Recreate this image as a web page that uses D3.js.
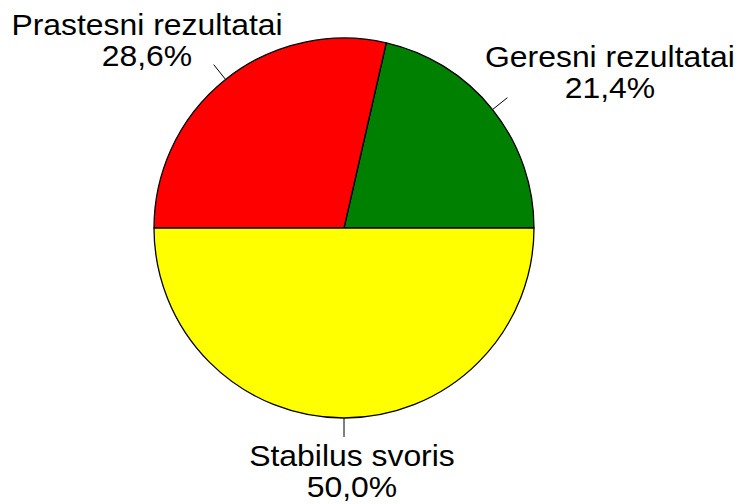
<!DOCTYPE html>
<html>
<head>
<meta charset="utf-8">
<script src="https://cdn.jsdelivr.net/npm/d3@7"></script>
<style>
  body { margin: 0; background: #fff; }
  svg { display: block; }
  text { font-family: "Liberation Sans", Arial, sans-serif; font-size: 29px; fill: #000; }
</style>
</head>
<body>
<svg width="744" height="504"></svg>
<script>
const width = 744;
const height = 504;

// slices in drawing order (counter-clockwise from 3 o'clock)
const categories = ['Geresni rezultatai', 'Prastesni rezultatai', 'Stabilus svoris'];
const counts = [3, 4, 7];
const colours = ['#008000', '#ff0000', '#ffff00'];

const cx = 344, cy = 228, r = 190;
// label block centres (x) and first baseline (y)
const labelSpots = [[610, 67], [147, 35], [352, 466]];
const stretch = 1.1;

const svg = d3.select('svg');
const g = svg.append('g').attr('transform', `translate(${cx},${cy})`);

const total = d3.sum(counts);
const pie = d3.pie()
  .sort(null)
  .startAngle(Math.PI / 2)
  .endAngle(Math.PI / 2 - 2 * Math.PI);

const arcs = pie(counts);
const arc = d3.arc().innerRadius(0).outerRadius(r);

g.selectAll('path')
  .data(arcs)
  .enter()
  .append('path')
  .attr('d', arc)
  .attr('fill', (d, i) => colours[i])
  .attr('stroke', '#000')
  .attr('stroke-width', 1.3)
  .attr('stroke-linejoin', 'round');

// tick lines from r to 1.1r
const mid = d => (d.startAngle + d.endAngle) / 2;
g.selectAll('line.tick')
  .data(arcs)
  .enter()
  .append('line')
  .attr('class', 'tick')
  .attr('x1', d => r * Math.sin(mid(d)))
  .attr('y1', d => -r * Math.cos(mid(d)))
  .attr('x2', d => 1.1 * r * Math.sin(mid(d)))
  .attr('y2', d => -1.1 * r * Math.cos(mid(d)))
  .attr('stroke', '#000')
  .attr('stroke-width', 1);

const fmt = v => d3.format('.1f')(v * 100 / total).replace('.', ',') + '%';

const labels = svg.selectAll('text.lab')
  .data(arcs)
  .enter()
  .append('text')
  .attr('class', 'lab')
  .attr('text-anchor', 'middle')
  .attr('transform', (d, i) => `translate(${labelSpots[i][0]},${labelSpots[i][1]}) scale(${stretch},1)`);

labels.append('tspan')
  .attr('x', 0)
  .attr('y', 0)
  .text((d, i) => categories[i]);

labels.append('tspan')
  .attr('x', 0)
  .attr('y', 31)
  .text(d => fmt(d.value));
</script>
</body>
</html>
